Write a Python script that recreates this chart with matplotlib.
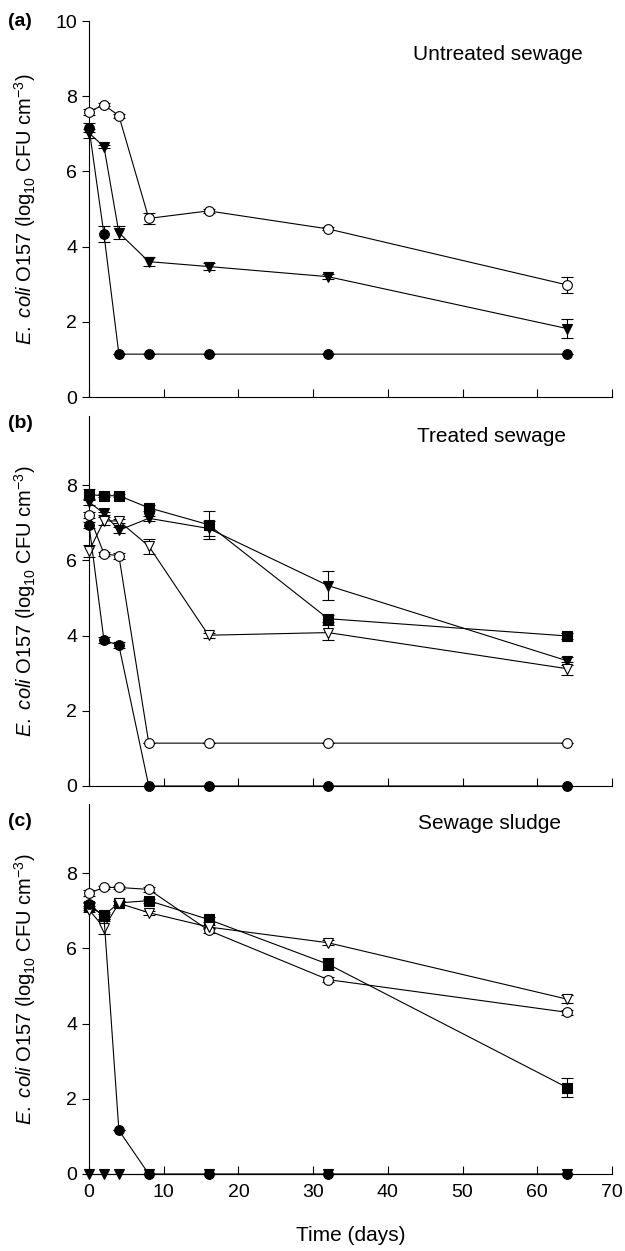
import numpy as np
import matplotlib
matplotlib.use("Agg")
import matplotlib.pyplot as plt

plt.rcParams["font.family"] = ["Liberation Sans", "DejaVu Sans"]
plt.rcParams["mathtext.fontset"] = "custom"
plt.rcParams["mathtext.rm"] = "Liberation Sans"
plt.rcParams["mathtext.it"] = "Liberation Sans:italic"

days = [0, 2, 4, 8, 16, 32, 64]

# (a) untreated sewage
a_open_circle = [7.59, 7.77, 7.48, 4.75, 4.95, 4.47, 2.98]
a_open_circle_err = [0.08, 0.04, 0.05, 0.14, 0.06, 0.04, 0.22]
a_filled_tri = [7.02, 6.66, 4.37, 3.60, 3.47, 3.20, 1.82]
a_filled_tri_err = [0.12, 0.04, 0.17, 0.12, 0.10, 0.06, 0.25]
a_filled_circle = [7.16, 4.33, 1.14, 1.14, 1.14, 1.14, 1.14]
a_filled_circle_err = [0.12, 0.22, 0, 0, 0, 0, 0]

# (b) treated sewage
b_filled_square = [7.75, 7.72, 7.72, 7.40, 6.95, 4.45, 3.99]
b_filled_square_err = [0.15, 0.04, 0.04, 0.08, 0.37, 0.10, 0.07]
b_filled_tri = [7.55, 7.25, 6.80, 7.12, 6.85, 5.33, 3.33]
b_filled_tri_err = [0.08, 0.05, 0.08, 0.06, 0.20, 0.38, 0.10]
b_open_tri = [6.25, 7.05, 7.05, 6.38, 4.01, 4.08, 3.12]
b_open_tri_err = [0.15, 0.10, 0.05, 0.20, 0.07, 0.20, 0.18]
b_open_circle = [7.20, 6.18, 6.12, 1.14, 1.14, 1.14, 1.14]
b_open_circle_err = [0.08, 0.05, 0.08, 0, 0, 0, 0]
b_filled_circle = [6.95, 3.88, 3.74, 0, 0, 0, 0]
b_filled_circle_err = [0.08, 0.08, 0.08, 0, 0, 0, 0]

# (c) sewage sludge
c_open_circle = [7.47, 7.62, 7.62, 7.57, 6.48, 5.17, 4.30]
c_open_circle_err = [0.08, 0.04, 0.04, 0.06, 0.06, 0.07, 0.07]
c_filled_square = [7.12, 6.88, 7.21, 7.27, 6.77, 5.58, 2.30]
c_filled_square_err = [0.10, 0.10, 0.05, 0.05, 0.07, 0.16, 0.25]
c_open_tri = [7.03, 6.55, 7.20, 6.95, 6.57, 6.15, 4.65]
c_open_tri_err = [0.05, 0.17, 0.05, 0.05, 0.05, 0.07, 0.10]
c_filled_circle = [7.18, 6.85, 1.16, 0, 0, 0, 0]
c_filled_circle_err = [0.06, 0.06, 0, 0, 0, 0, 0]
c_filled_tri = [0, 0, 0, 0, 0, 0, 0]

STYLES = {
    "open_circle": dict(marker="o", mfc="white"),
    "filled_circle": dict(marker="o", mfc="black"),
    "filled_tri": dict(marker="v", mfc="black"),
    "open_tri": dict(marker="v", mfc="white"),
    "filled_square": dict(marker="s", mfc="black"),
}

panels = [
    ("(a)", "Untreated sewage", (66.1, 9.12), 22, 397, True, [
        ("open_circle", a_open_circle, a_open_circle_err),
        ("filled_tri", a_filled_tri, a_filled_tri_err),
        ("filled_circle", a_filled_circle, a_filled_circle_err),
    ]),
    ("(b)", "Treated sewage", (63.8, 9.3), 423, 786, False, [
        ("filled_square", b_filled_square, b_filled_square_err),
        ("filled_tri", b_filled_tri, b_filled_tri_err),
        ("open_tri", b_open_tri, b_open_tri_err),
        ("open_circle", b_open_circle, b_open_circle_err),
        ("filled_circle", b_filled_circle, b_filled_circle_err),
    ]),
    ("(c)", "Sewage sludge", (63.2, 9.33), 822, 1174, False, [
        ("filled_tri", c_filled_tri, None),
        ("open_circle", c_open_circle, c_open_circle_err),
        ("filled_square", c_filled_square, c_filled_square_err),
        ("open_tri", c_open_tri, c_open_tri_err),
        ("filled_circle", c_filled_circle, c_filled_circle_err),
    ]),
]

W, H = 625, 1251
fig = plt.figure(figsize=(W / 100, H / 100), dpi=100)
x_left, x_right = 89, 612
unit = 37.6

for i, (tag, title, tpos, tag_y, y0_px, show10, series) in enumerate(panels):
    top = 10.0 if show10 else 9.85
    ax = fig.add_axes([x_left / W, 1 - y0_px / H, (x_right - x_left) / W, top * unit / H])
    for kind, vals, err in series:
        st = STYLES[kind]
        ax.errorbar(days, vals, yerr=err, color="black", lw=0.8, elinewidth=0.8,
                    capsize=4, capthick=0.8, marker=st["marker"], mfc=st["mfc"],
                    mec="black", mew=0.8, ms=7, clip_on=False, zorder=3)
    ax.set_xlim(0, 70)
    ax.set_ylim(0, top)
    ax.set_xticks(range(0, 71, 10))
    ax.set_yticks(range(0, 11 if show10 else 9, 2))
    ax.spines["top"].set_visible(False)
    ax.spines["right"].set_visible(False)
    ax.tick_params(axis="x", direction="in", length=6, width=0.8)
    ax.tick_params(axis="y", direction="out", length=5, width=0.8, labelsize=14)
    if i < 2:
        ax.tick_params(axis="x", labelbottom=False)
    else:
        ax.tick_params(axis="x", labelsize=14, pad=7)
        ax.set_xlabel("Time (days)", fontsize=15, labelpad=18)
    ax.set_ylabel(r"$\mathit{E.\ coli}$ O157 (log$_{10}$ CFU cm$^{-3}$)", fontsize=14.5)
    ax.yaxis.set_label_coords(-0.097, 0.5)
    ax.text(tpos[0], tpos[1], title, ha="right", va="center", fontsize=15)
    fig.text(8 / W, 1 - tag_y / H, tag, ha="left", va="center", fontsize=14, fontweight="bold")

fig.savefig("out.png", dpi=100)
